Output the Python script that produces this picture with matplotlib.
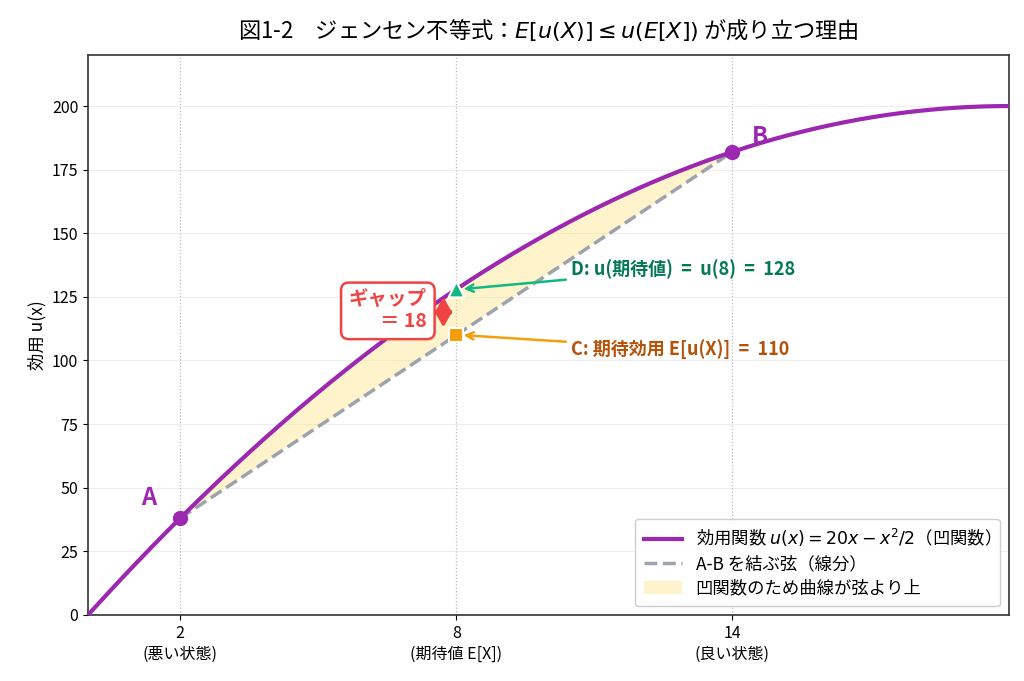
import matplotlib.pyplot as plt
import numpy as np

plt.rcParams['font.family'] = ['Noto Sans CJK JP', 'DejaVu Sans']
plt.rcParams['mathtext.fontset'] = 'dejavusans'

# u(x) = 20x - x^2/2
coef_lin = 20
coef_sq = 0.5
x_min, x_max = 0, 20

x_a, x_b = 2, 14
x_mean = 8
u_a, u_b = 38, 182
u_mean = 128       # u(E[X])
eu = 110           # E[u(X)]
gap = 18

xtick_vals = [2, 8, 14]
xtick_labels = ['2\n(悪い状態)', '8\n(期待値 E[X])', '14\n(良い状態)']
ytick_vals = [0, 25, 50, 75, 100, 125, 150, 175, 200]

purple = '#9c27b0'
gray = '#9ca3af'
green = '#10b981'
orange = '#f59e0b'
red = '#ef4444'


def u(x):
    return coef_lin * x - coef_sq * x ** 2


fig = plt.figure(figsize=(10.24, 6.81), dpi=100)
ax = fig.add_axes([0.086, 0.097, 0.899, 0.822])

xs = np.linspace(x_min, x_max, 400)
ax.plot(xs, u(xs), color=purple, lw=3, zorder=4,
        label=r'効用関数 $u(x) = 20x - x^2/2$（凹関数）')

ax.plot([x_a, x_b], [u_a, u_b], color=gray, lw=2.5, ls='--', zorder=3,
        label='A-B を結ぶ弦（線分）')

xf = np.linspace(x_a, x_b, 200)
chord = u_a + (u_b - u_a) * (xf - x_a) / (x_b - x_a)
ax.fill_between(xf, chord, u(xf), color='#fde68a', alpha=0.45, zorder=2,
                edgecolor='none', label='凹関数のため曲線が弦より上')

ax.scatter([x_a, x_b], [u_a, u_b], s=100, color=purple, zorder=6)
ax.text(1.31, 46, 'A', color=purple, fontsize=17, fontweight='bold',
        ha='center', va='center', zorder=6)
ax.text(14.6, 188, 'B', color=purple, fontsize=17, fontweight='bold',
        ha='center', va='center', zorder=6)

ax.scatter([x_mean], [u_mean], marker='^', s=130, color=green,
           edgecolor='white', linewidth=1.5, zorder=7)
ax.scatter([x_mean], [eu], marker='s', s=100, color=orange,
           edgecolor='white', linewidth=1.5, zorder=7)

ax.annotate(f'D: u(期待値)  =  u(8)  =  {u_mean}', xy=(x_mean + 0.1, u_mean),
            xytext=(10.5, 136), color='#047857', fontsize=13,
            fontweight='bold', ha='left', va='center', zorder=8,
            arrowprops=dict(arrowstyle='->', color=green, lw=1.8))
ax.annotate(f'C: 期待効用 E[u(X)]  =  {eu}', xy=(x_mean + 0.1, eu),
            xytext=(10.5, 104.5), color='#b45309', fontsize=13,
            fontweight='bold', ha='left', va='center', zorder=8,
            arrowprops=dict(arrowstyle='->', color=orange, lw=1.8))

# double arrow showing the gap
ax.annotate('', xy=(7.72, u_mean - 3), xytext=(7.72, eu + 3),
            arrowprops=dict(arrowstyle='<|-|>,head_length=0.5,head_width=0.28',
                            color=red, lw=2.5, mutation_scale=18,
                            shrinkA=0, shrinkB=0),
            zorder=10)
ax.text(7.36, 119.5, f'ギャップ\n＝ {gap}', color=red, fontsize=14,
        fontweight='bold', ha='right', va='center', zorder=9,
        linespacing=1.2,
        bbox=dict(boxstyle='round,pad=0.4', facecolor='white',
                  edgecolor=red, lw=1.8))

ax.set_xlim(x_min, x_max)
ax.set_ylim(0, 220)
ax.set_xticks(xtick_vals)
ax.set_xticklabels(xtick_labels, fontsize=11.5, linespacing=1.3)
ax.set_yticks(ytick_vals)
ax.tick_params(axis='y', labelsize=11.5)
ax.set_ylabel('効用 u(x)', fontsize=12.5)
for sp in ax.spines.values():
    sp.set_color('#333333')
    sp.set_linewidth(1.2)

ax.grid(axis='y', color='#eeeeee', lw=0.8)
for xv in xtick_vals:
    ax.axvline(xv, color='#bbbbbb', ls=':', lw=0.9, zorder=1)
ax.set_axisbelow(True)

ax.set_title(r'図1-2　ジェンセン不等式：$E[u(X)] \leq u(E[X])$ が成り立つ理由',
             fontsize=16, pad=12)

ax.legend(loc='lower right', fontsize=12.5, framealpha=0.95,
          handlelength=2.2, borderpad=0.5, labelspacing=0.35)

fig.savefig('out.png', dpi=100)
